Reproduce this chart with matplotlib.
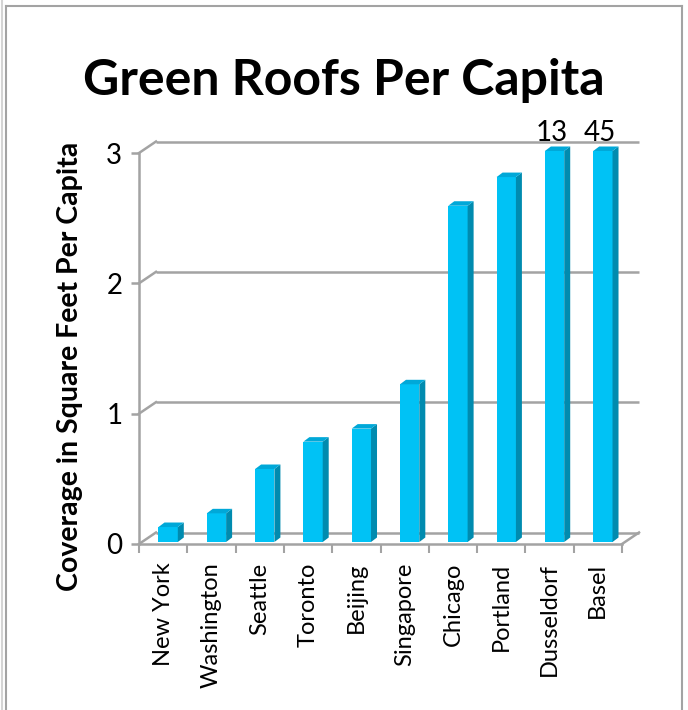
"""Green roofs per capita, Excel-style 3D column chart."""

import matplotlib
matplotlib.use("Agg")
import matplotlib.pyplot as plt
import matplotlib.transforms as mtransforms
import numpy as np
from matplotlib.lines import Line2D
from matplotlib.patches import Polygon

cities = ["New York", "Washington", "Seattle", "Toronto", "Beijing",
          "Singapore", "Chicago", "Portland", "Dusseldorf", "Basel"]
coverage = [0.115, 0.22, 0.56, 0.77, 0.87, 1.21, 2.58, 2.80, 13, 45]
y_ticks = [0, 1, 2, 3]
y_max = 3

W, H = 688, 710
GRAY = "#A3A3A3"
FRONT, SIDE, TOP = "#00C2F5", "#008BAF", "#00A8D8"
DEPTH = (17, 11.5)      # back wall offset, pixels
FACE = (5, 2)           # bar front face offset, pixels
BAR_D = (6, 4.5)        # bar depth, pixels

plt.rcParams["font.family"] = ["Lato", "DejaVu Sans"]

fig = plt.figure(figsize=(W / 100, H / 100), dpi=100)
ax = fig.add_axes([139 / W, 1 - 544 / H, (622 - 139) / W, (544 - 153) / H])
ax.set_xlim(0, len(cities))
ax.set_ylim(0, y_max)

back = mtransforms.offset_copy(ax.transData, fig=fig, x=DEPTH[0], y=DEPTH[1], units="dots")
face = mtransforms.offset_copy(ax.transData, fig=fig, x=FACE[0], y=FACE[1], units="dots")
ident = mtransforms.IdentityTransform()

# back wall gridlines and floor
ax.hlines(y_ticks, 0, len(cities), transform=back, color=GRAY, lw=1.8, clip_on=False, zorder=1)
for y in y_ticks:
    p = ax.transData.transform((0, y))
    ax.add_line(Line2D([p[0], p[0] + DEPTH[0]], [p[1], p[1] + DEPTH[1]], transform=ident,
                       color=GRAY, lw=1.8, clip_on=False, zorder=1))
p = ax.transData.transform((len(cities), 0))
ax.add_line(Line2D([p[0], p[0] + DEPTH[0]], [p[1], p[1] + DEPTH[1]], transform=ident,
                   color=GRAY, lw=1.8, clip_on=False, zorder=1))

# bars
centers = np.arange(len(cities)) + 0.5
shown = np.minimum(coverage, y_max)
width = 0.4
ax.bar(centers, shown, width=width, color=FRONT, transform=face, clip_on=False, zorder=3)
for c, v in zip(centers, shown):
    xl, xr = c - width / 2, c + width / 2
    br = face.transform((xr, 0))
    tl = face.transform((xl, v))
    tr = face.transform((xr, v))
    d = np.array(BAR_D)
    ax.add_patch(Polygon([br, tr, tr + d, br + d], closed=True, facecolor=SIDE,
                         edgecolor="none", transform=ident, clip_on=False, zorder=3))
    ax.add_patch(Polygon([tl, tr, tr + d, tl + d], closed=True, facecolor=TOP,
                         edgecolor="none", transform=ident, clip_on=False, zorder=3))

# values beyond the axis
lbl = mtransforms.offset_copy(ax.transData, fig=fig, x=2, y=12, units="dots")
for c, v in zip(centers, coverage):
    if v > y_max:
        ax.text(c, y_max, f"{v:g}", transform=lbl, ha="center", va="baseline",
                fontsize=20, clip_on=False, zorder=4)

# axes
for s in ["top", "right"]:
    ax.spines[s].set_visible(False)
for s in ["left", "bottom"]:
    ax.spines[s].set_color(GRAY)
    ax.spines[s].set_linewidth(1.8)
    ax.spines[s].set_zorder(4)
ax.set_yticks(y_ticks)
ax.tick_params(axis="y", length=6, width=1.8, color=GRAY, labelsize=20, pad=6)
ax.set_xticks(np.arange(len(cities) + 1))
ax.set_xticklabels([])
ax.tick_params(axis="x", which="major", length=6.5, width=1.5, color=GRAY)
ax.set_xticks(centers, minor=True)
ax.set_xticklabels(cities, minor=True, rotation=90, fontsize=17)
ax.tick_params(axis="x", which="minor", length=0, pad=13.5)
ax.set_facecolor("none")

fig.text(70 / W, 1 - 366 / H, "Coverage in Square Feet Per Capita", rotation=90,
         ha="center", va="center", fontsize=20.5, fontweight="bold")
fig.text(344 / W, 1 - 95 / H, "Green Roofs Per Capita", ha="center", va="baseline",
         fontsize=36, fontweight="bold")

# chart frame
for xs, ys, col in [([6, 6], [6, H], GRAY), ([6, 682], [6, 6], GRAY),
                    ([682, 682], [6, H], GRAY), ([1.5, 1.5], [0, H], "#D4D4D4")]:
    fig.add_artist(Line2D([x / W for x in xs], [1 - y / H for y in ys],
                          transform=fig.transFigure, color=col, lw=1.5))

fig.savefig("out.png", dpi=100)
